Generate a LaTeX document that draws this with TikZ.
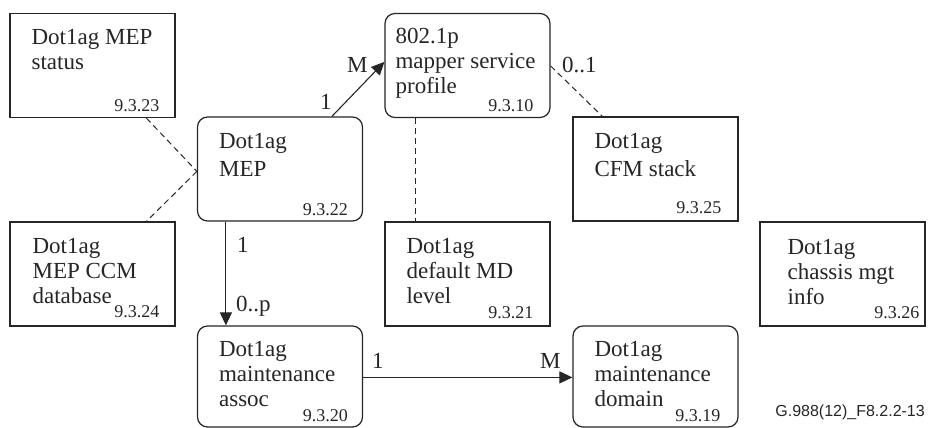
\documentclass[tikz,border=0pt]{standalone}
\usepackage{fontspec}
\setmainfont{Liberation Serif}
\newfontfamily\labsans{Liberation Sans}
\usetikzlibrary{calc,arrows.meta}
\begin{document}
\begin{tikzpicture}[x=1pt,y=-1pt,
 box/.style={draw=black!85, line width=1.2pt, inner sep=0pt, minimum width=165pt, minimum height=104pt},
 rbox/.style={box, rounded corners=10pt},
 txt/.style={anchor=base west, align=left, inner sep=0pt, font=\fontsize{23}{25}\selectfont, text=black!85},
 wide/.style={font=\fontsize{23}{27.5}\selectfont},
 num/.style={anchor=base east, inner sep=0pt, font=\fontsize{18}{20}\selectfont, text=black!85},
 lab/.style={anchor=base west, inner sep=0pt, font=\fontsize{23}{24}\selectfont, text=black!85},
 dashline/.style={draw=black!85, line width=1pt, dash pattern=on 6pt off 4pt},
 arr/.style={draw=black!85, line width=1.1pt, -{Triangle[length=13pt,width=12pt]}}
]
\fill[white] (0,0) rectangle (930,428);
\useasboundingbox (0,0) rectangle (930,428);

% boxes
\node[box]  (status)  at (92.5,65.5) {};
\node[rbox] (mep)     at (280,169) {};
\node[rbox] (mapper)  at (467.5,65.5) {};
\node[box]  (cfm)     at (655.5,169) {};
\node[box]  (ccm)     at (92.5,274) {};
\node[box]  (mdlevel) at (467.5,274) {};
\node[box]  (chassis) at (842.5,274) {};
\node[rbox, minimum height=101pt] (assoc)  at (280,376.5) {};
\node[rbox, minimum height=101pt] (domain) at (655.5,376.5) {};

% texts (anchored at the baseline of their last line)
\node[txt] (t1) at ($(status.north west)+(22,57)$) {Dot1ag MEP\\status};
\node[num] (n1) at ($(status.south east)+(-16,-7)$) {9.3.23};
\node[txt, wide] (t2) at ($(mep.north west)+(22,60)$) {Dot1ag\\MEP};
\node[num] (n2) at ($(mep.south east)+(-15,-6)$) {9.3.22};
\node[txt] (t3) at ($(mapper.north west)+(11,81)$) {802.1p\\mapper service\\profile};
\node[num] (n3) at ($(mapper.south east)+(-17,-7)$) {9.3.10};
\node[txt, wide] (t4) at ($(cfm.north west)+(22,60)$) {Dot1ag\\CFM stack};
\node[num] (n4) at ($(cfm.south east)+(-17,-8)$) {9.3.25};
\node[txt] (t5) at ($(ccm.north west)+(23,82)$) {Dot1ag\\MEP CCM\\database};
\node[num] (n5) at ($(ccm.south east)+(-16,-9)$) {9.3.24};
\node[txt] (t6) at ($(mdlevel.north west)+(22,82)$) {Dot1ag\\default MD\\level};
\node[num] (n6) at ($(mdlevel.south east)+(-17,-8)$) {9.3.21};
\node[txt] (t7) at ($(chassis.north west)+(28,83)$) {Dot1ag\\chassis mgt\\info};
\node[num] (n7) at ($(chassis.south east)+(-6,-8)$) {9.3.26};
\node[txt] (t8) at ($(assoc.north west)+(22,81)$) {Dot1ag\\maintenance\\assoc};
\node[num] (n8) at ($(assoc.south east)+(-15,-6)$) {9.3.20};
\node[txt] (t9) at ($(domain.north west)+(22,81)$) {Dot1ag\\maintenance\\domain};
\node[num] (n9) at ($(domain.south east)+(-18,-6)$) {9.3.19};

% solid connectors
\draw[arr] ($(mep.north west)+(135,0)$) -- ($(mapper.north west)+(0,49)$);
\node[lab] (l1) at (320,110) {1};
\node[lab] (l2) at (347,73) {M};
\draw[arr] ($(mep.south west)+(29,0)$) -- ($(assoc.north west)+(29,0)$);
\node[lab] (l3) at (237,252) {1};
\node[lab] (l4) at (236,311) {0..p};
\draw[arr] ($(assoc.north east)+(0,52)$) -- ($(domain.north west)+(0,52)$);
\node[lab] (l5) at (372,368) {1};
\node[lab] (l6) at (540,368) {M};

% dashed connectors
\coordinate (mepl) at ($(mep.north west)+(0,55)$);
\draw[dashline] ($(status.south west)+(137,0)$) -- (mepl);
\draw[dashline] (mepl) -- ($(ccm.north west)+(137,0)$);
\draw[dashline] ($(mapper.south west)+(31,0)$) -- ($(mdlevel.north west)+(31,0)$);
\draw[dashline] ($(mapper.north east)+(0,53)$) -- ($(cfm.north west)+(30,0)$);
\node[lab] (l7) at (562,73) {0..1};

\node[anchor=base east, inner sep=0pt, font=\labsans\fontsize{16}{18}\selectfont, text=black!85] (fig) at (925,416) {G.988(12)\_F8.2.2-13};
\end{tikzpicture}
\end{document}
